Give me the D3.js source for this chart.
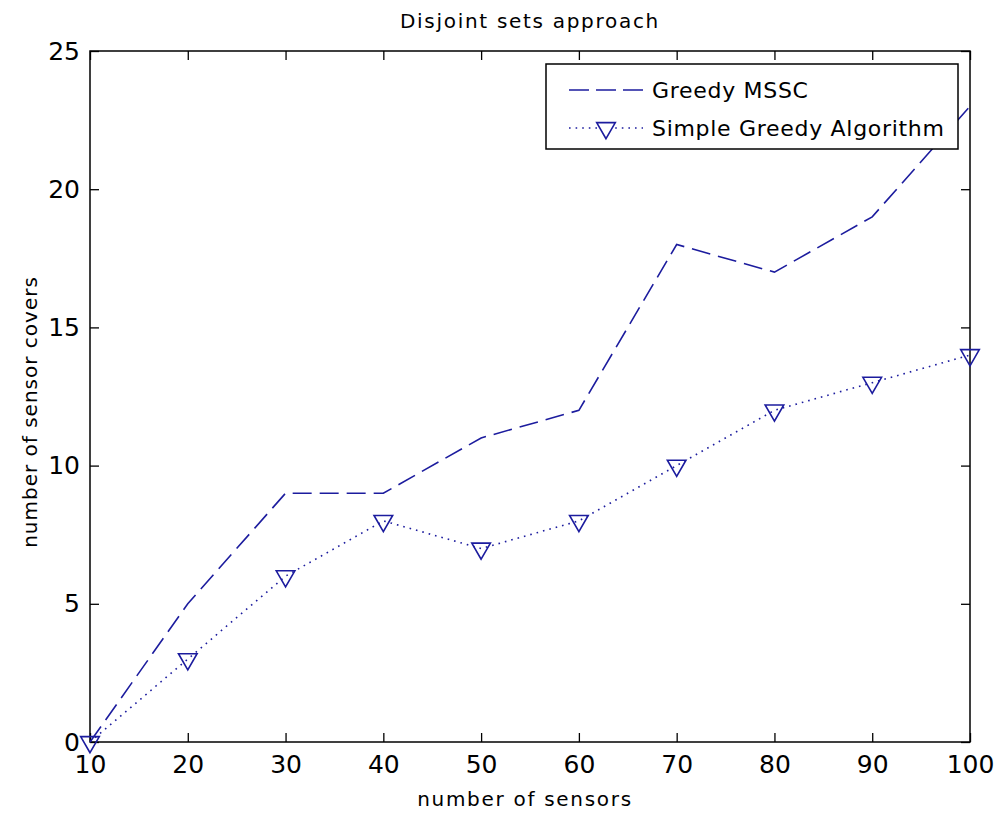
<!DOCTYPE html>
<html>
<head>
<meta charset="utf-8">
<script src="https://cdn.jsdelivr.net/npm/d3@7"></script>
<style>
  body { margin: 0; background: #fff; }
  text { font-family: "DejaVu Sans", sans-serif; fill: #000; }
</style>
</head>
<body>
<svg id="chart" width="995" height="816"></svg>
<script>
// chart data
var sensors = [10, 20, 30, 40, 50, 60, 70, 80, 90, 100];
var greedyMSSC = [0, 5, 9, 9, 11, 12, 18, 17, 19, 23];
var simpleGreedy = [0, 3, 6, 8, 7, 8, 10, 12, 13, 14];
var xTicks = [10, 20, 30, 40, 50, 60, 70, 80, 90, 100];
var yTicks = [0, 5, 10, 15, 20, 25];
var seriesNames = ["Greedy MSSC", "Simple Greedy Algorithm"];

var blue = "#1c1c9e";
var svg = d3.select("#chart");
var margin = {top: 51, right: 25, bottom: 74, left: 90},
    width = +svg.attr("width") - margin.left - margin.right,
    height = +svg.attr("height") - margin.top - margin.bottom,
    g = svg.append("g").attr("transform", "translate(" + margin.left + "," + margin.top + ")");

var x = d3.scaleLinear().domain([10, 100]).range([0, width]);
var y = d3.scaleLinear().domain([0, 25]).range([height, 0]);

// ticks inside the box on all four sides
g.append("g")
    .attr("transform", "translate(0," + height + ")")
    .call(d3.axisBottom(x).tickValues(xTicks).tickSizeInner(-9).tickSizeOuter(0).tickPadding(13))
    .call(function(a) { a.select(".domain").remove(); });
g.append("g")
    .call(d3.axisTop(x).tickValues(xTicks).tickSizeInner(-9).tickSizeOuter(0).tickFormat(""))
    .call(function(a) { a.select(".domain").remove(); });
g.append("g")
    .call(d3.axisLeft(y).tickValues(yTicks).tickSizeInner(-9).tickSizeOuter(0).tickPadding(10))
    .call(function(a) { a.select(".domain").remove(); });
g.append("g")
    .attr("transform", "translate(" + width + ",0)")
    .call(d3.axisRight(y).tickValues(yTicks).tickSizeInner(-9).tickSizeOuter(0).tickFormat(""))
    .call(function(a) { a.select(".domain").remove(); });

g.selectAll(".tick line").attr("stroke", "#000").attr("stroke-width", 1.3);
g.selectAll(".tick text")
    .attr("font-size", 25)
    .attr("font-family", "'Liberation Sans', Arial, sans-serif")
    .attr("fill", "#000");

g.append("rect")
    .attr("width", width)
    .attr("height", height)
    .attr("fill", "none")
    .attr("stroke", "#000")
    .attr("stroke-width", 1.5);

var line = d3.line()
    .x(function(d, i) { return x(sensors[i]); })
    .y(function(d) { return y(d); });

g.append("path")
    .datum(greedyMSSC)
    .attr("fill", "none")
    .attr("stroke", blue)
    .attr("stroke-width", 1.6)
    .attr("stroke-dasharray", "19,8")
    .attr("d", line);

g.append("path")
    .datum(simpleGreedy)
    .attr("fill", "none")
    .attr("stroke", blue)
    .attr("stroke-width", 1.6)
    .attr("stroke-dasharray", "1.6,5")
    .attr("d", line);

var tri = d3.symbol().type(d3.symbolTriangle).size(150);
g.selectAll(".mk")
    .data(simpleGreedy)
    .enter().append("path")
    .attr("class", "mk")
    .attr("d", tri)
    .attr("transform", function(d, i) { return "translate(" + x(sensors[i]) + "," + y(d) + ") rotate(180)"; })
    .attr("fill", "none")
    .attr("stroke", blue)
    .attr("stroke-width", 1.6);

// legend
var lg = svg.append("g").attr("transform", "translate(546,64)");
lg.append("rect")
    .attr("width", 412).attr("height", 85)
    .attr("fill", "#fff").attr("stroke", "#000").attr("stroke-width", 1.5);
lg.append("line")
    .attr("x1", 23).attr("x2", 97).attr("y1", 26).attr("y2", 26)
    .attr("stroke", blue).attr("stroke-width", 1.6).attr("stroke-dasharray", "20,7");
lg.append("line")
    .attr("x1", 23).attr("x2", 97).attr("y1", 64).attr("y2", 64)
    .attr("stroke", blue).attr("stroke-width", 1.6).attr("stroke-dasharray", "1.6,5");
lg.append("path")
    .attr("d", tri)
    .attr("transform", "translate(60,64) rotate(180)")
    .attr("fill", "#fff").attr("stroke", blue).attr("stroke-width", 1.6);
lg.selectAll(".lt")
    .data(seriesNames)
    .enter().append("text")
    .attr("x", 106)
    .attr("y", function(d, i) { return 26 + i * 38; })
    .attr("dy", "0.36em")
    .attr("font-size", 22)
    .attr("letter-spacing", 0.7)
    .text(function(d) { return d; });

// titles
svg.append("text")
    .attr("x", margin.left + width / 2)
    .attr("y", 28)
    .attr("text-anchor", "middle")
    .attr("font-size", 20)
    .attr("letter-spacing", 1.7)
    .text("Disjoint sets approach");
svg.append("text")
    .attr("x", 525)
    .attr("y", 806)
    .attr("text-anchor", "middle")
    .attr("font-size", 20)
    .attr("letter-spacing", 1.7)
    .text("number of sensors");
svg.append("text")
    .attr("transform", "translate(37," + 412 + ") rotate(-90)")
    .attr("text-anchor", "middle")
    .attr("font-size", 20)
    .attr("letter-spacing", 1)
    .text("number of sensor covers");
</script>
</body>
</html>
